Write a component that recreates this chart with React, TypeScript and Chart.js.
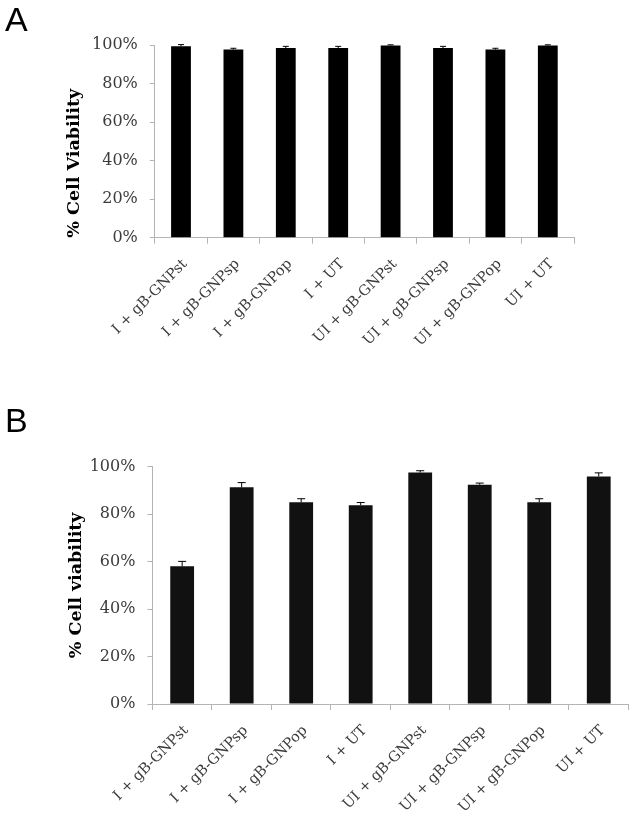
import React, { useEffect, useRef } from "react";
import { Chart, registerables } from "chart.js";

Chart.register(...registerables);

// ---- Data ----
const categories = [
  "I + gB-GNPst",
  "I + gB-GNPsp",
  "I + gB-GNPop",
  "I + UT",
  "UI + gB-GNPst",
  "UI + gB-GNPsp",
  "UI + gB-GNPop",
  "UI + UT",
];
const yTickValues = [0, 20, 40, 60, 80, 100];

const viabilityA = [99.3, 97.6, 98.4, 98.4, 99.8, 98.4, 97.6, 99.8];
const errorA = [0.9, 0.7, 0.9, 0.9, 0.3, 0.9, 0.7, 0.3];

const viabilityB = [58.0, 91.3, 85.0, 83.8, 97.6, 92.4, 85.0, 95.9];
const errorB = [2.1, 2.0, 1.5, 1.1, 0.7, 0.7, 1.5, 1.5];

const titleA = "% Cell Viability";
const titleB = "% Cell viability";

// ---- Error bar plugin ----
const errorBarPlugin = {
  id: "errorBars",
  afterDatasetsDraw(chart: any, _args: any, opts: any) {
    const { ctx } = chart;
    const yScale = chart.scales.y;
    chart.data.datasets.forEach((ds: any, di: number) => {
      const meta = chart.getDatasetMeta(di);
      const errs: number[] = ds.errors || [];
      meta.data.forEach((bar: any, i: number) => {
        const v = ds.data[i];
        const e = errs[i];
        if (e == null) return;
        const x = bar.x;
        const yTop = yScale.getPixelForValue(v + e);
        const yBase = yScale.getPixelForValue(v);
        ctx.save();
        ctx.strokeStyle = opts.color || "#000";
        ctx.lineWidth = 1;
        ctx.beginPath();
        ctx.moveTo(x, yBase);
        ctx.lineTo(x, yTop);
        ctx.moveTo(x - opts.cap / 2, yTop);
        ctx.lineTo(x + opts.cap / 2, yTop);
        ctx.stroke();
        ctx.restore();
      });
    });
  },
};

const axisColor = "#b4b4b4";
const tickColor = "#3c3c3c";
const serif = "'DejaVu Serif', 'Liberation Serif', serif";

type PanelProps = {
  values: number[];
  errors: number[];
  title: string;
  titleAlign: "start" | "center" | "end";
  titlePad: number;
  width: number;
  height: number;
  padTop: number;
  padRight: number;
  yWidth: number;
  xHeight: number;
  barPct: number;
  barColor: string;
  cap: number;
};

function Panel(p: PanelProps) {
  const ref = useRef<HTMLCanvasElement | null>(null);
  useEffect(() => {
    if (!ref.current) return;
    const chart = new Chart(ref.current, {
      type: "bar",
      data: {
        labels: categories,
        datasets: [
          {
            data: p.values,
            errors: p.errors,
            backgroundColor: p.barColor,
            borderWidth: 0,
            barPercentage: p.barPct,
            categoryPercentage: 1,
          } as any,
        ],
      },
      options: {
        animation: false,
        responsive: false,
        maintainAspectRatio: false,
        layout: { padding: { left: 0, right: p.padRight, top: p.padTop, bottom: 0 } },
        plugins: {
          legend: { display: false },
          tooltip: { enabled: false },
          errorBars: { color: "#000", cap: p.cap },
        } as any,
        scales: {
          x: {
            type: "category",
            offset: true,
            grid: {
              display: true,
              drawOnChartArea: false,
              drawTicks: true,
              tickLength: 6,
              color: axisColor,
              offset: true,
            },
            border: { color: axisColor },
            ticks: {
              autoSkip: false,
              maxRotation: 45,
              minRotation: 45,
              padding: 12,
              labelOffset: 4,
              color: tickColor,
              font: { family: serif, size: 14.5 },
            },
            afterFit: (s: any) => {
              s.height = p.xHeight;
            },
          },
          y: {
            min: 0,
            max: 100,
            afterBuildTicks: (s: any) => {
              s.ticks = yTickValues.map((v) => ({ value: v }));
            },
            grid: {
              display: true,
              drawOnChartArea: false,
              drawTicks: true,
              tickLength: 5,
              color: axisColor,
            },
            border: { color: axisColor },
            ticks: {
              padding: 12,
              color: tickColor,
              font: { family: serif, size: 16 },
              callback: (v: any) => v + "%",
            },
            title: {
              display: true,
              text: p.title,
              align: p.titleAlign,
              color: "#000",
              font: { family: serif, size: 17.5, weight: "bold" },
              padding: { top: p.titlePad, bottom: 0 },
            },
            afterFit: (s: any) => {
              s.width = p.yWidth;
            },
          },
        },
      },
      plugins: [errorBarPlugin as any],
    });
    return () => chart.destroy();
  }, []);
  return (
    <canvas
      ref={ref}
      width={p.width}
      height={p.height}
      style={{ width: p.width, height: p.height, display: "block" }}
    />
  );
}

const letterStyle: React.CSSProperties = {
  position: "absolute",
  left: 5,
  fontFamily: "'Liberation Sans', Arial, sans-serif",
  fontSize: 34,
  lineHeight: "34px",
  color: "#000",
};

export default function App() {
  return (
    <div
      style={{
        position: "absolute",
        left: 0,
        top: 0,
        width: 633,
        height: 814,
        background: "#fff",
        overflow: "hidden",
      }}
    >
      <div style={{ position: "absolute", left: 0, top: 0 }}>
        <Panel
          values={viabilityA}
          errors={errorA}
          title={titleA}
          titleAlign="start"
          titlePad={64}
          width={633}
          height={410}
          padTop={45}
          padRight={59}
          yWidth={154.8}
          xHeight={172.3}
          barPct={0.378}
          barColor="#000"
          cap={6}
        />
      </div>
      <div style={{ position: "absolute", left: 0, top: 410 }}>
        <Panel
          values={viabilityB}
          errors={errorB}
          title={titleB}
          titleAlign="center"
          titlePad={66}
          width={633}
          height={404}
          padTop={56.7}
          padRight={4.5}
          yWidth={152.4}
          xHeight={110}
          barPct={0.4}
          barColor="#111"
          cap={8}
        />
      </div>
      <div style={{ ...letterStyle, top: 2 }}>A</div>
      <div style={{ ...letterStyle, top: 403 }}>B</div>
    </div>
  );
}
